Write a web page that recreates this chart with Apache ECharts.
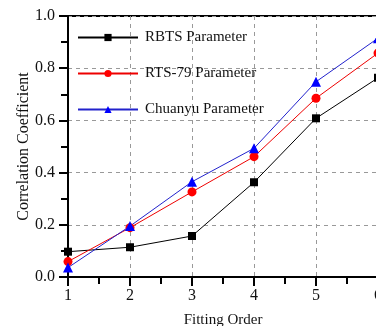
<!DOCTYPE html>
<html>
<head>
<meta charset="utf-8">
<script src="https://cdn.jsdelivr.net/npm/echarts@6/dist/echarts.min.js"></script>
<style>
html, body { margin: 0; padding: 0; background: #fff; }
#chart { width: 376px; height: 326px; }
</style>
</head>
<body>
<div id="chart"></div>
<script>
var orders = [1, 2, 3, 4, 5, 6];
var rbts = [0.097, 0.114, 0.157, 0.363, 0.608, 0.763];
var rts79 = [0.059, 0.189, 0.326, 0.461, 0.685, 0.858];
var chuanyu = [0.036, 0.195, 0.365, 0.493, 0.748, 0.915];

function pairs(arr) {
	var out = [];
	for (var i = 0; i < orders.length; i++) {
		out.push([orders[i], arr[i]]);
	}
	return out;
}

var font = 'Liberation Serif';
var myChart = echarts.init(document.getElementById('chart'));

var option = {
	backgroundColor: '#fff',
	animation: false,
	grid: {
		left: 68,
		top: 16,
		width: 310,
		height: 261,
		outerBoundsMode: 'none',
		containLabel: false,
		show: true,
		borderColor: '#000',
		borderWidth: 2
	},
	legend: {
		orient: 'vertical',
		left: 72,
		top: 25,
		itemWidth: 60,
		itemHeight: 9,
		itemGap: 21,
		textStyle: { fontFamily: font, fontSize: 15, color: '#111', padding: [0, 0, 0, 2] },
		data: ['RBTS Parameter', 'RTS-79 Parameter', 'Chuanyu Parameter']
	},
	xAxis: {
		type: 'value',
		min: 1,
		max: 6,
		interval: 1,
		name: 'Fitting Order',
		nameLocation: 'middle',
		nameGap: 36,
		nameTextStyle: { fontFamily: font, fontSize: 15, color: '#111' },
		axisLine: { lineStyle: { color: '#000', width: 2 } },
		axisTick: { inside: false, length: 9, lineStyle: { color: '#000', width: 2 } },
		minorTick: { show: true, splitNumber: 2, length: 7, lineStyle: { color: '#000', width: 2 } },
		axisLabel: { fontFamily: font, fontSize: 16, color: '#111', margin: 11 },
		splitLine: { show: true, lineStyle: { color: '#999', type: [4, 4], width: 1 } }
	},
	yAxis: {
		type: 'value',
		min: 0,
		max: 1,
		interval: 0.2,
		name: 'Correlation Coefficient',
		nameLocation: 'middle',
		nameGap: 36,
		nameMoveOverlap: false,
		nameTextStyle: { fontFamily: font, fontSize: 16, color: '#111' },
		axisLine: { lineStyle: { color: '#000', width: 2 } },
		axisTick: { inside: false, length: 9, lineStyle: { color: '#000', width: 2 } },
		minorTick: { show: true, splitNumber: 2, length: 7, lineStyle: { color: '#000', width: 2 } },
		axisLabel: {
			fontFamily: font, fontSize: 16, color: '#111', margin: 13,
			formatter: function (v) { return v.toFixed(1); }
		},
		splitLine: { show: true, lineStyle: { color: '#999', type: [4, 4], width: 1 } }
	},
	series: [
		{
			name: 'RBTS Parameter',
			type: 'line',
			symbol: 'rect',
			symbolSize: 8,
			itemStyle: { color: '#000' },
			lineStyle: { color: '#000', width: 1 },
			data: pairs(rbts)
		},
		{
			name: 'RTS-79 Parameter',
			type: 'line',
			symbol: 'circle',
			symbolSize: 9,
			itemStyle: { color: '#f00' },
			lineStyle: { color: '#e00', width: 1 },
			data: pairs(rts79)
		},
		{
			name: 'Chuanyu Parameter',
			type: 'line',
			symbol: 'triangle',
			symbolSize: 10,
			itemStyle: { color: '#00f' },
			lineStyle: { color: '#22c', width: 1 },
			data: pairs(chuanyu)
		}
	]
};
myChart.setOption(option);
</script>
</body>
</html>
